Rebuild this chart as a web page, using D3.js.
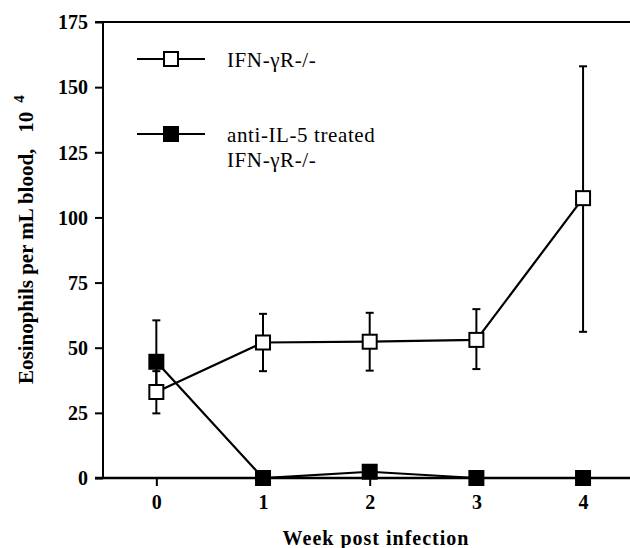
<!DOCTYPE html>
<html>
<head>
<meta charset="utf-8">
<script src="https://cdn.jsdelivr.net/npm/d3@7"></script>
<style>
  body { margin: 0; background: #fff; }
  text { font-family: "Liberation Serif", "Times New Roman", serif; fill: #000; }
</style>
</head>
<body>
<div id="cont"></div>
<script>
// data
var weeks = [0, 1, 2, 3, 4];
var yTicks = [0, 25, 50, 75, 100, 125, 150, 175];

// IFN-gR-/- (open squares)
var openMean = [33, 52, 52.3, 53, 107.4];
var openLo   = [24.8, 41, 41.2, 41.8, 56.1];
var openHi   = [41, 63, 63.4, 64.8, 158];

// anti-IL-5 treated IFN-gR-/- (filled squares)
var fillMean = [44.6, 0, 2.4, 0, 0];
var fillLo   = [35, 0, 2.4, 0, 0];
var fillHi   = [60.5, 0, 2.4, 0, 0];

var legendLabels = [["IFN-\u03B3R-/-"], ["anti-IL-5 treated", "IFN-\u03B3R-/-"]];

// layout
var W = 630, H = 548;
var sq = 14;

var svg = d3.select("#cont").append("svg")
    .attr("width", W)
    .attr("height", H);

var x = d3.scaleLinear().domain([-0.5, 4.44]).range([103, 630]);
var y = d3.scaleLinear().domain([0, 175]).range([478, 22]);

// axes
var yAxis = d3.axisLeft(y).tickValues(yTicks).tickSize(8).tickPadding(7);
var gy = svg.append("g").attr("transform", "translate(103,0)").call(yAxis);
gy.select(".domain").remove();
gy.selectAll(".tick line").attr("stroke", "#000").attr("stroke-width", 2);
gy.selectAll(".tick text")
    .style("font-family", "'Liberation Serif', serif")
    .style("font-weight", "bold")
    .style("font-size", "20px")
    .attr("dy", "0.34em");

var xAxis = d3.axisBottom(x).tickValues(weeks).tickSize(8).tickPadding(9).tickFormat(d3.format("d"));
var gx = svg.append("g").attr("transform", "translate(0,478)").call(xAxis);
gx.select(".domain").remove();
gx.selectAll(".tick line").attr("stroke", "#000").attr("stroke-width", 2);
gx.selectAll(".tick text")
    .style("font-family", "'Liberation Serif', serif")
    .style("font-weight", "bold")
    .style("font-size", "20px");

// frame lines
svg.append("line").attr("x1", 103).attr("x2", 103).attr("y1", y(175)).attr("y2", y(0))
    .attr("stroke", "#000").attr("stroke-width", 2);
svg.append("line").attr("x1", 95).attr("x2", W).attr("y1", y(0)).attr("y2", y(0))
    .attr("stroke", "#000").attr("stroke-width", 2.5);
svg.append("line").attr("x1", 95).attr("x2", W).attr("y1", y(175)).attr("y2", y(175))
    .attr("stroke", "#000").attr("stroke-width", 2);

// axis titles
svg.append("text")
    .attr("x", 376).attr("y", 545)
    .attr("text-anchor", "middle")
    .style("font-weight", "bold").style("font-size", "20px").style("letter-spacing", "1px")
    .text("Week post infection");

var yl = svg.append("text")
    .attr("transform", "translate(33,384) rotate(-90)")
    .style("font-weight", "bold").style("font-size", "21px");
yl.append("tspan").text("Eosinophils per mL blood,");
yl.append("tspan").attr("dx", 16).text("10");
yl.append("tspan").attr("dx", 9).attr("dy", -9).style("font-size", "15px").text("4");

// series
function series(mean, lo, hi) {
    var pts = weeks.map(function(w, i) { return {w: w, m: mean[i], lo: lo[i], hi: hi[i]}; });
    var line = d3.line().x(function(d) { return x(d.w); }).y(function(d) { return y(d.m); });
    svg.append("path").datum(pts)
        .attr("d", line).attr("fill", "none")
        .attr("stroke", "#000").attr("stroke-width", 2.2);

    var eb = svg.append("g").selectAll("g").data(pts.filter(function(d) { return d.hi > d.lo; }))
        .enter().append("g");
    eb.append("line")
        .attr("x1", function(d) { return x(d.w); }).attr("x2", function(d) { return x(d.w); })
        .attr("y1", function(d) { return y(d.lo); }).attr("y2", function(d) { return y(d.hi); })
        .attr("stroke", "#000").attr("stroke-width", 2);
    ["lo", "hi"].forEach(function(k) {
        eb.append("line")
            .attr("x1", function(d) { return x(d.w) - 4; }).attr("x2", function(d) { return x(d.w) + 4; })
            .attr("y1", function(d) { return y(d[k]); }).attr("y2", function(d) { return y(d[k]); })
            .attr("stroke", "#000").attr("stroke-width", 2);
    });
    return pts;
}

var openPts = series(openMean, openLo, openHi);
var fillPts = series(fillMean, fillLo, fillHi);

function squares(pts, fill) {
    svg.append("g").selectAll("rect").data(pts).enter().append("rect")
        .attr("x", function(d) { return x(d.w) - sq / 2; })
        .attr("y", function(d) { return y(d.m) - sq / 2; })
        .attr("width", sq).attr("height", sq)
        .attr("fill", fill).attr("stroke", "#000").attr("stroke-width", 2);
}
squares(openPts, "#fff");
squares(fillPts, "#000");

// legend
var legY = [59, 134];
var legFill = ["#fff", "#000"];
legendLabels.forEach(function(lab, i) {
    var g = svg.append("g");
    g.append("line").attr("x1", 137).attr("x2", 205).attr("y1", legY[i]).attr("y2", legY[i])
        .attr("stroke", "#000").attr("stroke-width", 2);
    g.append("rect").attr("x", 171 - sq / 2).attr("y", legY[i] - sq / 2)
        .attr("width", sq).attr("height", sq)
        .attr("fill", legFill[i]).attr("stroke", "#000").attr("stroke-width", 2);
    lab.forEach(function(t, j) {
        g.append("text").attr("x", 227).attr("y", legY[i] + 8 + j * 25)
            .style("font-size", "21px").style("letter-spacing", "0.6px")
            .text(t);
    });
});
</script>
</body>
</html>
